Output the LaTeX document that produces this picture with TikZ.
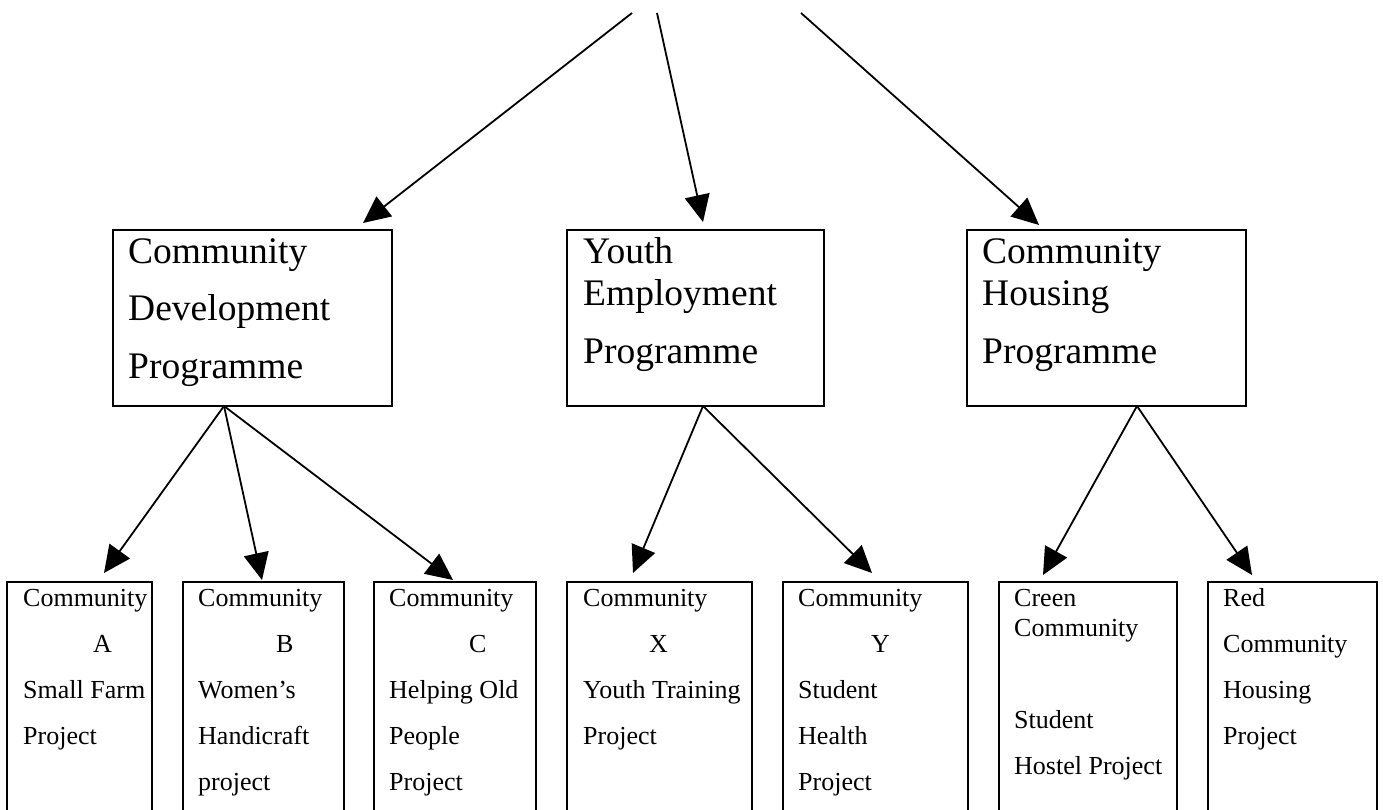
\documentclass[tikz,border=0pt]{standalone}
\usepackage{fontspec}
\setmainfont{Liberation Serif}
\usetikzlibrary{arrows.meta}
\begin{document}
\begin{tikzpicture}[x=1pt,y=-1pt,
  box/.style={draw, line width=2.2pt, anchor=north west, inner sep=0pt, outer sep=0pt},
  arr/.style={line width=1.8pt, -{Triangle[length=27pt,width=25pt]}},
  bigtxt/.style={anchor=base west, inner sep=0pt, font=\fontsize{37.5}{57}\selectfont},
  smalltxt/.style={anchor=base west, inner sep=0pt, font=\fontsize{26}{46}\selectfont}]
\useasboundingbox (0,0) rectangle (1383,810);
\clip (0,0) rectangle (1383,810);

% top level boxes
\node[box, minimum width=279pt, minimum height=176pt] (cdp) at (113,230) {};
\node[box, minimum width=257pt, minimum height=176pt] (yep) at (567,230) {};
\node[box, minimum width=279pt, minimum height=176pt] (chp) at (967,230) {};

\node[bigtxt] (tcdp) at (128,264) {\parbox[t]{260pt}{\raggedright Community\\Development\\Programme}};
\node[bigtxt] (tyep) at (583,264) {\parbox[t]{240pt}{\raggedright Youth\\[-15pt]Employment\\[1pt]Programme}};
\node[bigtxt] (tchp) at (982,264) {\parbox[t]{260pt}{\raggedright Community\\[-15pt]Housing\\[1pt]Programme}};

% bottom boxes
\node[box, minimum width=145pt, minimum height=250pt] (pa) at (7,582) {};
\node[box, minimum width=161pt, minimum height=250pt] (pb) at (183,582) {};
\node[box, minimum width=162pt, minimum height=250pt] (pc) at (374,582) {};
\node[box, minimum width=185pt, minimum height=250pt] (px) at (567,582) {};
\node[box, minimum width=185pt, minimum height=250pt] (py) at (783,582) {};
\node[box, minimum width=178pt, minimum height=250pt] (pg) at (999,582) {};
\node[box, minimum width=169pt, minimum height=250pt] (pr) at (1208,582) {};

\node[smalltxt] (ta) at (23,606) {\parbox[t]{170pt}{\raggedright Community\\\hspace*{70pt}A\\Small Farm\\Project}};
\node[smalltxt] (tb) at (198,606) {\parbox[t]{170pt}{\raggedright Community\\\hspace*{78pt}B\\Women’s\\Handicraft\\project}};
\node[smalltxt] (tc) at (389,606) {\parbox[t]{170pt}{\raggedright Community\\\hspace*{80pt}C\\Helping Old\\People\\Project}};
\node[smalltxt] (tx) at (583,606) {\parbox[t]{190pt}{\raggedright Community\\\hspace*{66pt}X\\Youth Training\\Project}};
\node[smalltxt] (ty) at (798,606) {\parbox[t]{190pt}{\raggedright Community\\\hspace*{73pt}Y\\Student\\Health\\Project}};
\node[smalltxt] (tg) at (1014,606) {\parbox[t]{190pt}{\raggedright Creen\\[-16pt]Community\\[46pt]Student\\Hostel Project}};
\node[smalltxt] (tr) at (1223,606) {\parbox[t]{170pt}{\raggedright Red\\Community\\Housing\\Project}};

% free ends of the incoming connectors
\coordinate (s1) at (632,13);
\coordinate (s2) at (657,13);
\coordinate (s3) at (801,13);

\draw[arr] (s1) -- ([shift={(250pt,7pt)}]cdp.north west);
\draw[arr] (s2) -- ([shift={(136pt,8pt)}]yep.north west);
\draw[arr] (s3) -- ([shift={(72pt,5pt)}]chp.north west);

\draw[arr] ([xshift=111pt]cdp.south west) -- ([shift={(97pt,9pt)}]pa.north west);
\draw[arr] ([xshift=111pt]cdp.south west) -- ([shift={(79pt,2pt)}]pb.north west);
\draw[arr] ([xshift=111pt]cdp.south west) -- ([shift={(79pt,2pt)}]pc.north west);

\draw[arr] ([xshift=136pt]yep.south west) -- ([shift={(66pt,9pt)}]px.north west);
\draw[arr] ([xshift=136pt]yep.south west) -- ([shift={(89pt,9pt)}]py.north west);

\draw[arr] ([xshift=170pt]chp.south west) -- ([shift={(44pt,7pt)}]pg.north west);
\draw[arr] ([xshift=170pt]chp.south west) -- ([shift={(44pt,7pt)}]pr.north west);
\end{tikzpicture}
\end{document}
